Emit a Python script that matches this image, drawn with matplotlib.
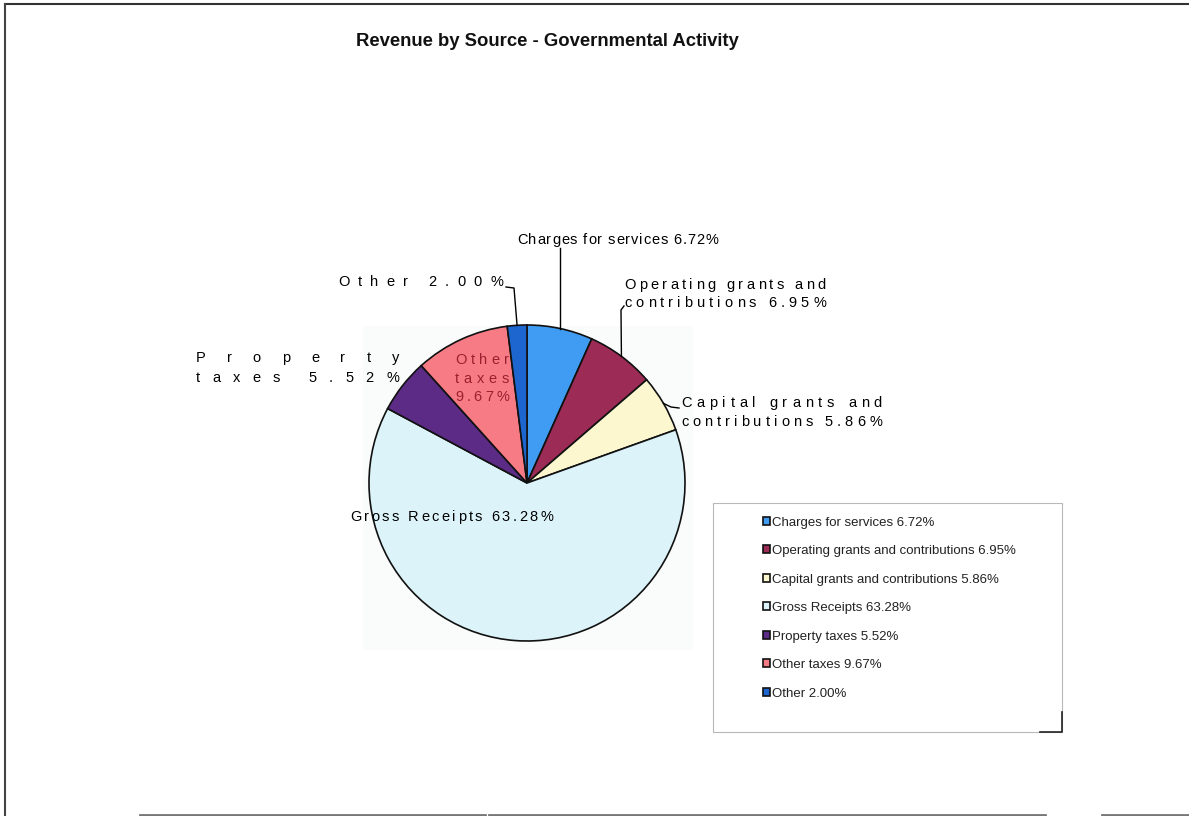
import numpy as np
import matplotlib
matplotlib.use("Agg")
import matplotlib.pyplot as plt
from matplotlib.patches import Rectangle

W, H = 1189, 816

title = "Revenue by Source - Governmental Activity"
categories = ["Charges for services", "Operating grants and contributions",
              "Capital grants and contributions", "Gross Receipts",
              "Property taxes", "Other taxes", "Other"]
shares = [6.72, 6.95, 5.86, 63.28, 5.52, 9.67, 2.00]
colors = ["#3f9cf2", "#9c2b55", "#fcf7cf", "#dcf3fa", "#5b2b86", "#f77b84", "#1d66cf"]

FONT = "Liberation Sans"
plt.rcParams["font.family"] = [FONT, "DejaVu Sans"]


def img(x, y):
    # layout is measured from the top-left corner
    return x, H - y


def spaced(ax, s, x0, x1, y, **kw):
    # spread the characters of s evenly so the line runs from x0 to x1
    r = ax.figure.canvas.get_renderer()

    def width(t):
        tt = ax.text(0, 0, t, **kw)
        w = tt.get_window_extent(r).width
        tt.remove()
        return w

    bar = width("||")
    ws = [width("|" + ch + "|") - bar for ch in s]
    gap = (x1 - x0 - sum(ws)) / max(len(s) - 1, 1)
    x = x0
    for ch, w in zip(s, ws):
        if ch != " ":
            ax.text(x, H - y, ch, ha="left", va="center", **kw)
        x += w + gap


fig = plt.figure(figsize=(W / 100, H / 100), dpi=100)
ax = fig.add_axes([0, 0, 1, 1])

cx, cy = img(527, 483)
R = 158

# faint plot area behind the pie
ax.add_patch(Rectangle(img(363, 650), 330, 324, facecolor="#fafbfb",
                       edgecolor="none", zorder=0))

wedges, _ = ax.pie(shares, colors=colors, startangle=90, counterclock=False,
                   center=(cx, cy), radius=R,
                   wedgeprops=dict(edgecolor="#111111", linewidth=1.2))
ax.set_xlim(0, W)
ax.set_ylim(0, H)
ax.axis("off")


def edge(i):
    w = wedges[i]
    a = np.radians((w.theta1 + w.theta2) / 2)
    return cx + R * np.cos(a), cy + R * np.sin(a)


labels = ["{} {:.2f}%".format(c, v) for c, v in zip(categories, shares)]

# (slice, words per line, left, right, line y's, colour)
label_layout = [
    (0, [4], 517, 718, [240], "black"),
    (1, [3, 2], 624, 826, [285, 303], "black"),
    (2, [3, 2], 681, 882, [403, 422], "black"),
    (3, [3], 350, 553, [517], "black"),
    (4, [1, 2], 196, 399, [358, 378], "black"),
    (5, [1, 1, 1], 455, 509, [360, 379, 397], "#9a2030"),
    (6, [2], 338, 503, [282], "black"),
]
for i, split, x0, x1, ys, col in label_layout:
    words = labels[i].split()
    k = 0
    for n, y in zip(split, ys):
        line = " ".join(words[k:k + n])
        k += n
        spaced(ax, line, x0, x1, y, fontsize=10.5, color=col, zorder=5)

# leader lines from the labels to the slice edges
leaders = {
    6: [img(506, 287), img(514, 288)],
    0: [img(560, 248)],
    1: [img(624, 306), img(621, 310)],
    2: [img(679, 408), img(671, 407)],
}
for i, pts in leaders.items():
    ex, ey = edge(i)
    xs = [p[0] for p in pts] + [ex]
    ys = [p[1] for p in pts] + [ey]
    if i == 0:
        xs[0] = ex
    ax.plot(xs, ys, color="black", lw=1.0, zorder=4)

ax.text(547, H - 42, title, ha="center", va="center", fontsize=13.3,
        fontweight="bold", color="#111111")

# legend box
ax.add_patch(Rectangle(img(713, 732), 349, 229, facecolor="white",
                       edgecolor="#b8b8b8", linewidth=0.8, zorder=2))
ax.plot([1040, 1062, 1062], [H - 732, H - 732, H - 712], color="#222222", lw=1.2, zorder=3)
ax.legend(wedges, labels, loc="upper left", bbox_to_anchor=img(756, 510),
          bbox_transform=ax.transData, frameon=False, fontsize=9.5,
          handlelength=0.55, handleheight=0.55, handletextpad=0.15,
          labelspacing=1.25, borderpad=0, labelcolor="#222222")

# outer frame
ax.plot([5, W], [H - 4, H - 4], color="#333333", lw=1.5)
ax.plot([5, 5], [H - 4, 0], color="#444444", lw=1.5)
for a, b in [(140, 485), (489, 731), (733, 1045), (1102, W)]:
    ax.plot([a, b], [1, 1], color="#777777", lw=2)

fig.savefig("out.png", dpi=100, facecolor="white")
